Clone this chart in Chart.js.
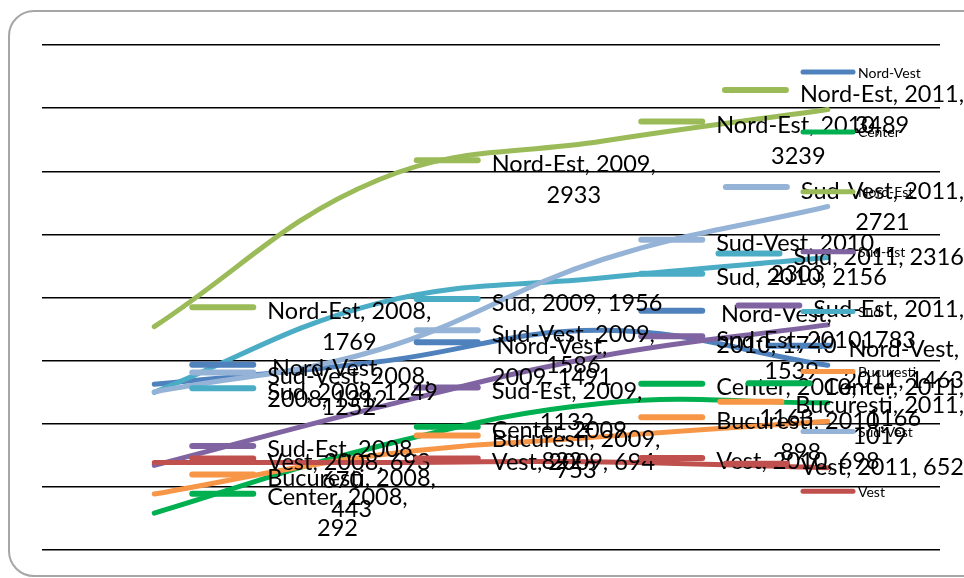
<!DOCTYPE html>
<html><head><meta charset="utf-8">
<script src="https://cdn.jsdelivr.net/npm/chart.js@4"></script>
<style>
html,body{margin:0;padding:0;background:#fff;overflow:hidden;}
#wrap{position:relative;width:964px;height:578px;overflow:hidden;}
#frame{position:absolute;left:8px;top:10px;width:1000px;height:567px;border:2px solid #a6a6a6;border-radius:26px;box-sizing:border-box;}
canvas{position:absolute;left:0;top:0;}
</style></head><body>
<div id="wrap"><div id="frame"></div><canvas id="c" width="964" height="578"></canvas></div>
<script>
const years = ['2008', '2009', '2010', '2011'];
const seriesNames = ['Nord-Vest', 'Center', 'Nord-Est', 'Sud-Est', 'Sud', 'Bucuresti', 'Sud-Vest', 'Vest'];
const nordVest  = [1312, 1491, 1740, 1463];
const center    = [292, 822, 1163, 1166];
const nordEst   = [1769, 2933, 3239, 3489];
const sudEst    = [670, 1132, 1539, 1783];
const sud       = [1249, 1956, 2156, 2316];
const bucuresti = [443, 753, 898, 1019];
const sudVest   = [1252, 1586, 2303, 2721];
const vest      = [693, 694, 698, 652];
const yTicks = [0, 500, 1000, 1500, 2000, 2500, 3000, 3500, 4000];

const seriesValues = [nordVest, center, nordEst, sudEst, sud, bucuresti, sudVest, vest];
const colors = ['#4F81BD', '#00B050', '#9BBB59', '#8064A2', '#4BACC6', '#F79646', '#95B3D7', '#C0504D'];

const LABEL_FONT = '23.5px Lato, "Liberation Sans", sans-serif';
const LEGEND_FONT = '14px Lato, "Liberation Sans", sans-serif';

function labelLines(name, year, value) {
  if (name === 'Nord-Vest') return [name + ',', year + ', ' + value];
  if (name === 'Sud' || name === 'Vest') return [name + ', ' + year + ', ' + value];
  return [name + ', ' + year + ',', String(value)];
}

const labelPlugin = {
  id: 'dataLabels',
  afterDatasetsDraw(chart) {
    const ctx = chart.ctx;
    ctx.save();
    ctx.font = LABEL_FONT;
    ctx.textAlign = 'center';
    ctx.textBaseline = 'middle';
    const lh = 31;
    chart.data.datasets.forEach((ds, i) => {
      const meta = chart.getDatasetMeta(i);
      meta.data.forEach((pt, j) => {
        const lines = labelLines(ds.label, years[j], ds.data[j]);
        const w = Math.max(...lines.map(l => ctx.measureText(l).width));
        let textLeft = pt.x + 35 + 78;
        if (textLeft + w > 964) textLeft = 964 - w;
        const keyLeft = textLeft - 78;
        const top = pt.y - lh * lines.length / 2;
        ctx.strokeStyle = ds.borderColor;
        ctx.lineWidth = 6;
        ctx.lineCap = 'round';
        ctx.beginPath();
        ctx.moveTo(keyLeft + 3, top + lh / 2 - 4);
        ctx.lineTo(keyLeft + 64, top + lh / 2 - 4);
        ctx.stroke();
        ctx.fillStyle = '#000';
        lines.forEach((l, k) => ctx.fillText(l, textLeft + w / 2, top + lh * k + lh / 2));
      });
    });
    ctx.restore();
  }
};

const legendPlugin = {
  id: 'sideLegend',
  afterDraw(chart) {
    const ctx = chart.ctx;
    ctx.save();
    ctx.font = LEGEND_FONT;
    ctx.textBaseline = 'middle';
    ctx.textAlign = 'left';
    chart.data.datasets.forEach((ds, i) => {
      const y = 72 + i * 59.9;
      ctx.strokeStyle = ds.borderColor;
      ctx.lineWidth = 5;
      ctx.lineCap = 'round';
      ctx.beginPath();
      ctx.moveTo(803, y);
      ctx.lineTo(853, y);
      ctx.stroke();
      ctx.fillStyle = '#000';
      ctx.fillText(ds.label, 858, y + 1);
    });
    ctx.restore();
  }
};

new Chart(document.getElementById('c'), {
  type: 'line',
  data: {
    labels: years,
    datasets: seriesNames.map((n, i) => ({
      label: n,
      data: seriesValues[i],
      borderColor: colors[i],
      backgroundColor: colors[i],
      borderWidth: 5,
      pointRadius: 0,
      tension: 0.4,
      fill: false,
      borderCapStyle: 'round',
      order: seriesNames.length - i
    }))
  },
  options: {
    responsive: false,
    animation: false,
    devicePixelRatio: 1,
    layout: { padding: { left: 42, right: 24, top: 45, bottom: 28 } },
    plugins: { legend: { display: false }, tooltip: { enabled: false } },
    scales: {
      x: {
        offset: true,
        ticks: { display: false },
        grid: { display: false, drawTicks: false },
        border: { display: false }
      },
      y: {
        min: 0, max: 4000,
        afterBuildTicks(scale) { scale.ticks = yTicks.map(v => ({ value: v })); },
        ticks: { display: false },
        grid: { color: '#000', lineWidth: 1.5, drawTicks: false },
        border: { display: false }
      }
    }
  },
  plugins: [labelPlugin, legendPlugin]
});
</script>
</body></html>
